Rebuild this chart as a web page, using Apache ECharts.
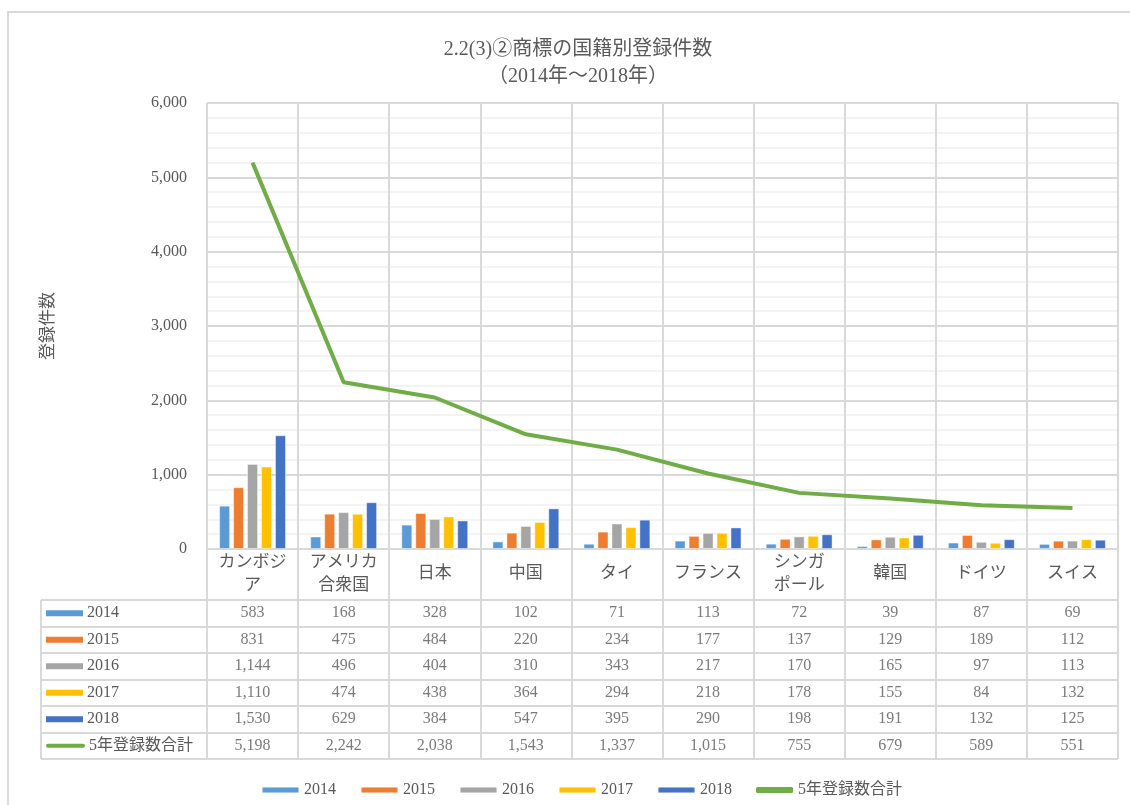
<!DOCTYPE html>
<html>
<head>
<meta charset="utf-8">
<script src="https://cdn.jsdelivr.net/npm/echarts@6/dist/echarts.min.js"></script>
<style>
  html, body { margin: 0; padding: 0; background: #fff; }
  #main { width: 1130px; height: 805px; }
</style>
</head>
<body>
<div id="main"></div>
<script>
var countries = ['カンボジ\nア', 'アメリカ\n合衆国', '日本', '中国', 'タイ', 'フランス', 'シンガ\nポール', '韓国', 'ドイツ', 'スイス'];
var years = ['2014', '2015', '2016', '2017', '2018'];
var v2014 = [583, 168, 328, 102, 71, 113, 72, 39, 87, 69];
var v2015 = [831, 475, 484, 220, 234, 177, 137, 129, 189, 112];
var v2016 = [1144, 496, 404, 310, 343, 217, 170, 165, 97, 113];
var v2017 = [1110, 474, 438, 364, 294, 218, 178, 155, 84, 132];
var v2018 = [1530, 629, 384, 547, 395, 290, 198, 191, 132, 125];
var total = [5198, 2242, 2038, 1543, 1337, 1015, 755, 679, 589, 551];
var totalName = '5年登録数合計';
var yTicks = [0, 1000, 2000, 3000, 4000, 5000, 6000];

var barColors = ['#5B9BD5', '#ED7D31', '#A5A5A5', '#FFC000', '#4472C4'];
var lineColor = '#70AD47';
var textColor = '#595959';
var gridColor = '#d9d9d9';
var font = '"Liberation Serif", "Noto Sans CJK JP", serif';

var yearValues = [v2014, v2015, v2016, v2017, v2018];
var rowNames = years.concat([totalName]);
var rowValues = yearValues.concat([total]);

var fmt = function (n) { return n.toLocaleString('en-US'); };

// cells of the data table, one point per [country, row]
var cells = [];
rowValues.forEach(function (arr, r) {
    arr.forEach(function (v, c) { cells.push([c, r, v]); });
});

var rich = { t: { fontFamily: font, fontSize: 16, color: textColor, padding: [0, 0, 0, 4] } };
barColors.forEach(function (c, i) {
    rich['m' + i] = { width: 37, height: 6, backgroundColor: c };
});
rich.m5 = { width: 39, height: 4, backgroundColor: lineColor, borderRadius: 2 };

var series = years.map(function (y, i) {
    return {
        name: y,
        type: 'bar',
        xAxisIndex: 0,
        yAxisIndex: 0,
        data: yearValues[i],
        barWidth: 11,
        barGap: '27%',
        itemStyle: { color: barColors[i], borderColor: 'rgba(255,255,255,0.45)', borderWidth: 1 },
        silent: true
    };
});
series.push({
    name: totalName,
    type: 'line',
    xAxisIndex: 0,
    yAxisIndex: 0,
    data: total,
    symbol: 'none',
    lineStyle: { color: lineColor, width: 4 },
    itemStyle: { color: lineColor },
    z: 5,
    silent: true
});
series.push({
    name: 'table',
    type: 'scatter',
    xAxisIndex: 1,
    yAxisIndex: 1,
    data: cells,
    symbolSize: 1,
    itemStyle: { color: 'rgba(0,0,0,0)' },
    label: {
        show: true,
        position: 'inside',
        fontFamily: font,
        fontSize: 16,
        color: textColor,
        formatter: function (p) { return fmt(p.value[2]); }
    },
    silent: true
});

var legendData = years.map(function (y) { return { name: y }; });
legendData.push({ name: totalName, icon: 'roundRect', itemStyle: { color: lineColor } });

var myChart = echarts.init(document.getElementById('main'));
myChart.setOption({
    backgroundColor: '#fff',
    animation: false,
    title: {
        text: '2.2(3)②商標の国籍別登録件数\n（2014年～2018年）',
        left: 573,
        textAlign: 'center',
        top: 31,
        textStyle: { fontFamily: font, fontSize: 20, fontWeight: 'normal', color: textColor, lineHeight: 27 }
    },
    legend: {
        data: legendData,
        left: 256,
        top: 777,
        itemWidth: 37,
        itemHeight: 6,
        itemGap: 24,
        textStyle: { fontFamily: font, fontSize: 16, color: textColor }
    },
    grid: [
        { left: 207, right: 12, top: 103, height: 446 },
        { left: 207, right: 12, top: 600, height: 159 }
    ],
    xAxis: [
        {
            type: 'category',
            gridIndex: 0,
            data: countries,
            axisLine: { show: false },
            axisTick: { show: true, length: 51, lineStyle: { color: gridColor, width: 2 } },
            splitLine: { show: true, interval: 0, lineStyle: { color: gridColor, width: 2 } },
            axisLabel: {
                interval: 0,
                margin: 25,
                verticalAlign: 'middle',
                fontFamily: font,
                fontSize: 17,
                lineHeight: 23,
                color: textColor
            }
        },
        {
            type: 'category',
            gridIndex: 1,
            data: countries,
            axisLine: { show: false },
            axisTick: { show: false },
            axisLabel: { show: false },
            splitLine: { show: true, interval: 0, lineStyle: { color: gridColor, width: 2 } }
        }
    ],
    yAxis: [
        {
            type: 'value',
            gridIndex: 0,
            min: yTicks[0],
            max: yTicks[yTicks.length - 1],
            interval: 1000,
            name: '登録件数',
            nameLocation: 'middle',
            nameGap: 150,
            nameRotate: 90,
            nameTextStyle: { fontFamily: font, fontSize: 17, color: textColor },
            axisLine: { show: false },
            axisTick: { show: false },
            axisLabel: {
                margin: 20,
                fontFamily: font,
                fontSize: 16,
                color: textColor,
                formatter: function (v) { return fmt(v); }
            },
            splitLine: { show: true, lineStyle: { color: gridColor, width: 2 } },
            minorTick: { show: false, splitNumber: 5 },
            minorSplitLine: { show: true, lineStyle: { color: '#efefef', width: 1.5 } }
        },
        {
            type: 'category',
            gridIndex: 1,
            data: rowNames,
            inverse: true,
            axisLine: { show: false },
            axisTick: { show: true, length: 166, lineStyle: { color: gridColor, width: 2 } },
            splitLine: { show: true, interval: 0, lineStyle: { color: gridColor, width: 2 } },
            axisLabel: {
                interval: 0,
                align: 'left',
                margin: 161,
                formatter: function (v, i) { return '{m' + i + '|}{t|' + v + '}'; },
                rich: rich
            }
        }
    ],
    graphic: [
        {
            type: 'rect',
            shape: { x: 8, y: 12, width: 1140, height: 820 },
            style: { fill: 'none', stroke: gridColor, lineWidth: 2 },
            silent: true,
            z: -1
        },
        {
            type: 'line',
            shape: { x1: 41, y1: 600, x2: 41, y2: 759 },
            style: { stroke: gridColor, lineWidth: 2 },
            silent: true
        }
    ],
    series: series
});
</script>
</body>
</html>
